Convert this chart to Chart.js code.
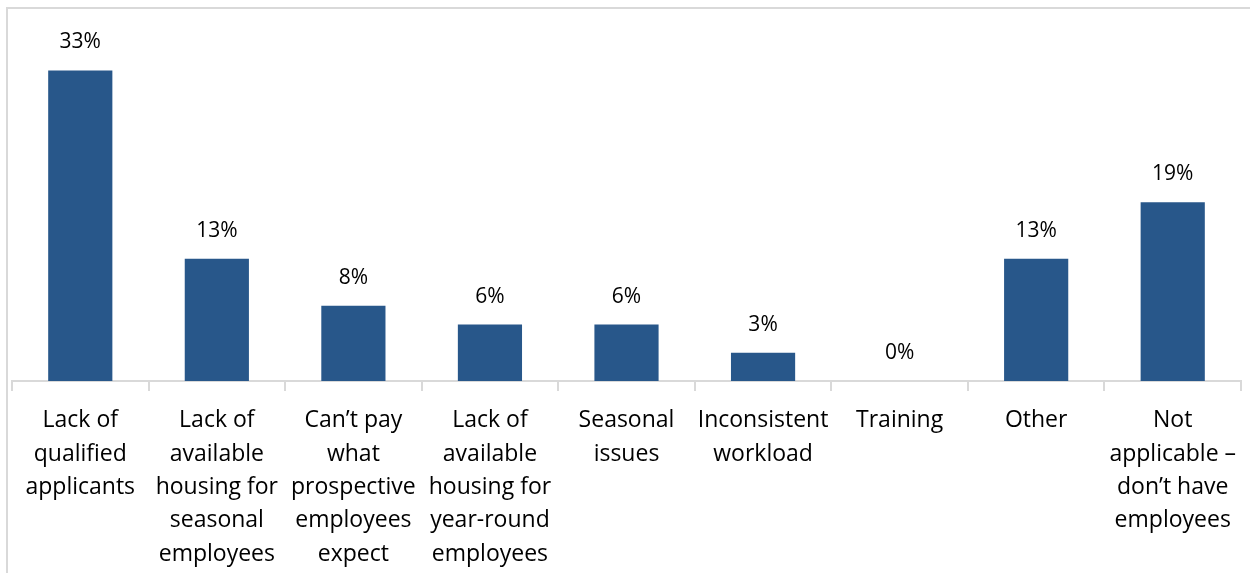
<!DOCTYPE html>
<html>
<head>
<meta charset="utf-8">
<script src="https://cdn.jsdelivr.net/npm/chart.js@4.4.1/dist/chart.umd.min.js"></script>
<style>
  html, body { margin: 0; padding: 0; background: #ffffff; }
  #wrap { position: relative; width: 1250px; height: 573px; }
</style>
</head>
<body>
<div id="wrap"><canvas id="chart" width="1250" height="573"></canvas></div>
<script>
// Reasons for difficulty hiring (share of respondents, %)
const categories = [
  ["Lack of", "qualified", "applicants"],
  ["Lack of", "available", "housing for", "seasonal", "employees"],
  ["Can\u2019t pay", "what", "prospective", "employees", "expect"],
  ["Lack of", "available", "housing for", "year-round", "employees"],
  ["Seasonal", "issues"],
  ["Inconsistent", "workload"],
  ["Training"],
  ["Other"],
  ["Not", "applicable \u2013", "don\u2019t have", "employees"]
];
const percentages = [33, 13, 8, 6, 6, 3, 0, 13, 19];

const FONT = "'Open Sans', 'Noto Sans', sans-serif";
const BAR_COLOR = "#28578a";
const RULE_COLOR = "#d9d9d9";

// Frame lines along the top and left edges of the figure
const framePlugin = {
  id: "frame",
  beforeDraw(chart) {
    const ctx = chart.ctx;
    ctx.save();
    ctx.strokeStyle = RULE_COLOR;
    ctx.lineWidth = 2;
    ctx.beginPath();
    ctx.moveTo(7, chart.height);
    ctx.lineTo(7, 8);
    ctx.lineTo(chart.width, 8);
    ctx.stroke();
    ctx.restore();
  }
};

// Percentage labels above each bar
const valueLabels = {
  id: "valueLabels",
  afterDatasetsDraw(chart) {
    const ctx = chart.ctx;
    const meta = chart.getDatasetMeta(0);
    ctx.save();
    ctx.font = "21px " + FONT;
    ctx.fillStyle = "#000000";
    ctx.textAlign = "center";
    ctx.textBaseline = "middle";
    meta.data.forEach((bar, i) => {
      ctx.fillText(percentages[i] + "%", bar.x, bar.y - 28);
    });
    ctx.restore();
  }
};

new Chart(document.getElementById("chart"), {
  type: "bar",
  data: {
    labels: categories,
    datasets: [{
      data: percentages,
      backgroundColor: BAR_COLOR,
      borderWidth: 0,
      barPercentage: 0.47,
      categoryPercentage: 1
    }]
  },
  options: {
    responsive: false,
    animation: false,
    layout: { padding: { top: 46, left: 12, right: 9, bottom: 0 } },
    plugins: {
      legend: { display: false },
      tooltip: { enabled: false }
    },
    scales: {
      x: {
        offset: true,
        grid: {
          display: true,
          offset: true,
          drawOnChartArea: false,
          drawTicks: true,
          tickLength: 10,
          color: RULE_COLOR,
          lineWidth: 2
        },
        border: { display: true, color: RULE_COLOR, width: 2 },
        ticks: {
          color: "#000000",
          font: { family: FONT, size: 23, lineHeight: 1.45 },
          padding: 13,
          maxRotation: 0,
          minRotation: 0,
          autoSkip: false
        },
        afterFit(scale) { scale.height = 192; }
      },
      y: {
        display: false,
        min: 0,
        max: 35.6
      }
    }
  },
  plugins: [framePlugin, valueLabels]
});
</script>
</body>
</html>
